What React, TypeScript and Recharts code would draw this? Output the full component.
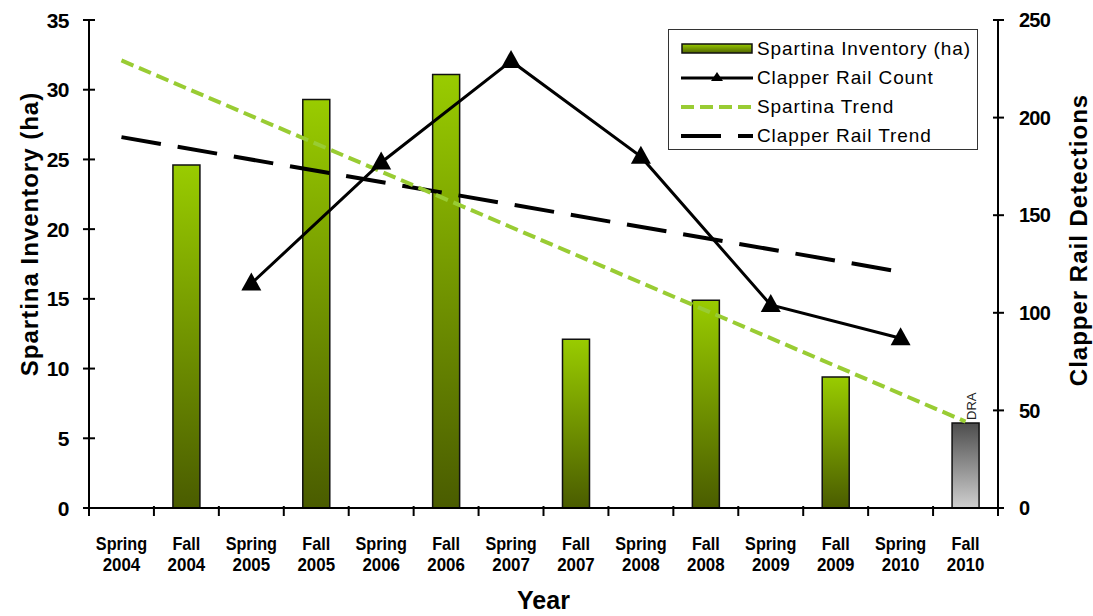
import React from 'react';
import { ComposedChart, Bar, Line, XAxis, YAxis, Cell, LabelList } from 'recharts';

const categories = [
  'Spring 2004', 'Fall 2004', 'Spring 2005', 'Fall 2005', 'Spring 2006', 'Fall 2006', 'Spring 2007',
  'Fall 2007', 'Spring 2008', 'Fall 2008', 'Spring 2009', 'Fall 2009', 'Spring 2010', 'Fall 2010',
];
const spartinaInventory = [null, 24.6, null, 29.3, null, 31.1, null, 12.1, null, 14.9, null, 9.4, null, 6.1];
const clapperRailCount = [null, null, 115, null, 177, null, 229, null, 180, null, 104, null, 87, null];
const spartinaTrend = [32.1, null, null, null, null, null, null, null, null, null, null, null, null, 6.2];
const clapperRailTrend = [190, null, null, null, null, null, null, null, null, null, null, null, 121, null];
const barNotes = ['', '', '', '', '', '', '', '', '', '', '', '', '', 'DRA'];
const leftTicks = [0, 5, 10, 15, 20, 25, 30, 35];
const rightTicks = [0, 50, 100, 150, 200, 250];

const data = categories.map((c, i) => ({
  cat: c,
  spartina: spartinaInventory[i],
  clapper: clapperRailCount[i],
  sTrend: spartinaTrend[i],
  cTrend: clapperRailTrend[i],
  note: barNotes[i],
}));

const W = 1093;
const H = 616;
const LEFT_W = 89;
const RIGHT_W = 95;
const TOP = 20;
const XAXIS_H = 108;
const FONT = '"Liberation Sans", Arial, sans-serif';

const XTick = (props: any) => {
  const { x, y, payload, index, width } = props;
  const plotW = typeof width === 'number' && width > 0 ? width : W - LEFT_W - RIGHT_W;
  const band = plotW / categories.length;
  const parts = String(payload.value).split(' ');
  return (
    <g>
      <line x1={x - band / 2} x2={x - band / 2} y1={y - 2} y2={y + 8} stroke="#000" strokeWidth={2} />
      {index === categories.length - 1 && (
        <line x1={x + band / 2} x2={x + band / 2} y1={y - 2} y2={y + 8} stroke="#000" strokeWidth={2} />
      )}
      <g transform={`translate(${x},${y + 42}) scale(0.9,1)`}>
        <text textAnchor="middle" fontFamily={FONT} fontWeight="bold" fontSize={18} fill="#000">
          {parts[0]}
        </text>
      </g>
      <g transform={`translate(${x},${y + 63}) scale(0.94,1)`}>
        <text textAnchor="middle" fontFamily={FONT} fontWeight="bold" fontSize={18} fill="#000">
          {parts[1]}
        </text>
      </g>
    </g>
  );
};

const LeftTick = (props: any) => {
  const { x, y, payload } = props;
  return (
    <g>
      <line x1={x - 6} x2={x + 6} y1={y} y2={y} stroke="#000" strokeWidth={2} />
      <text
        x={x - 20}
        y={y}
        textAnchor="end"
        dy="0.36em"
        fontFamily={FONT}
        fontWeight="bold"
        fontSize={21}
        letterSpacing={-0.5}
        fill="#000"
      >
        {payload.value}
      </text>
    </g>
  );
};

const RightTick = (props: any) => {
  const { x, y, payload } = props;
  return (
    <g>
      <line x1={x - 5} x2={x + 6} y1={y} y2={y} stroke="#000" strokeWidth={2} />
      <text
        x={x + 21}
        y={y}
        textAnchor="start"
        dy="0.36em"
        fontFamily={FONT}
        fontWeight="bold"
        fontSize={20}
        letterSpacing={-0.8}
        fill="#000"
      >
        {payload.value}
      </text>
    </g>
  );
};

const Triangle = (props: any) => {
  const { cx, cy, payload } = props;
  if (cx == null || cy == null || payload == null || payload.clapper == null) return null;
  return <path d={`M${cx},${cy - 11} L${cx + 10},${cy + 7} L${cx - 10},${cy + 7} Z`} fill="#000" />;
};

const NoteLabel = (props: any) => {
  const { x, y, width, value } = props;
  if (!value) return null;
  return (
    <text
      transform={`translate(${x + width / 2 + 10},${y - 3}) rotate(-90)`}
      fontFamily={FONT}
      fontSize={13}
      fill="#222"
    >
      {value}
    </text>
  );
};

const legendItems = [
  { key: 'bar', label: 'Spartina Inventory (ha)' },
  { key: 'count', label: 'Clapper Rail Count' },
  { key: 'sTrend', label: 'Spartina Trend' },
  { key: 'cTrend', label: 'Clapper Rail Trend' },
];

const LegendIcon = ({ kind }: { kind: string }) => (
  <svg width={72} height={16} style={{ display: 'block' }}>
    <defs>
      <linearGradient id="legGrad" x1="0" y1="0" x2="0" y2="1">
        <stop offset="0%" stopColor="#99cc00" />
        <stop offset="100%" stopColor="#4f6300" />
      </linearGradient>
    </defs>
    {kind === 'bar' && <rect x={1} y={3} width={70} height={9} fill="url(#legGrad)" stroke="#111" strokeWidth={1.5} />}
    {kind === 'count' && (
      <g>
        <line x1={0} x2={72} y1={8} y2={8} stroke="#000" strokeWidth={3} />
        <path d="M36,2 L42,11 L30,11 Z" fill="#000" />
      </g>
    )}
    {kind === 'sTrend' && (
      <line x1={0} x2={72} y1={8} y2={8} stroke="#99cc33" strokeWidth={4} strokeDasharray="13 6" />
    )}
    {kind === 'cTrend' && (
      <line x1={0} x2={72} y1={8} y2={8} stroke="#000" strokeWidth={4} strokeDasharray="40 17" />
    )}
  </svg>
);

export default function App() {
  return (
    <div style={{ position: 'absolute', left: 0, top: 0, width: W, height: H, fontFamily: FONT, background: '#fff' }}>
      <ComposedChart width={W} height={H} data={data} margin={{ top: TOP, right: 0, bottom: 0, left: 0 }}>
        <defs>
          <linearGradient id="greenGrad" x1="0" y1="0" x2="0" y2="1">
            <stop offset="0%" stopColor="#99cc00" />
            <stop offset="100%" stopColor="#4a5c00" />
          </linearGradient>
          <linearGradient id="grayGrad" x1="0" y1="0" x2="0" y2="1">
            <stop offset="0%" stopColor="#4d4d4d" />
            <stop offset="100%" stopColor="#cfcfcf" />
          </linearGradient>
        </defs>
        <XAxis
          dataKey="cat"
          height={XAXIS_H}
          interval={0}
          tickLine={false}
          tickSize={0}
          tickMargin={0}
          axisLine={{ stroke: '#000', strokeWidth: 2 }}
          tick={XTick}
          label={(p: any) => {
            const vb = p.viewBox || {};
            return (
              <text
                x={vb.x + vb.width / 2}
                y={vb.y + 101}
                textAnchor="middle"
                fontFamily={FONT}
                fontWeight="bold"
                fontSize={25}
                fill="#000"
              >
                Year
              </text>
            );
          }}
        />
        <YAxis
          yAxisId="left"
          orientation="left"
          width={LEFT_W}
          domain={[0, 35]}
          ticks={leftTicks}
          interval={0}
          tickLine={false}
          tickSize={0}
          tickMargin={0}
          axisLine={{ stroke: '#000', strokeWidth: 2 }}
          tick={LeftTick}
          label={(p: any) => {
            const vb = p.viewBox || {};
            return (
              <text
                transform={`translate(${vb.x + 38},${vb.y + vb.height / 2 - 30}) rotate(-90)`}
                textAnchor="middle"
                fontFamily={FONT}
                fontWeight="bold"
                fontSize={24}
                letterSpacing={1}
                fill="#000"
              >
                Spartina Inventory (ha)
              </text>
            );
          }}
        />
        <YAxis
          yAxisId="right"
          orientation="right"
          width={RIGHT_W}
          domain={[0, 250]}
          ticks={rightTicks}
          interval={0}
          tickLine={false}
          tickSize={0}
          tickMargin={0}
          axisLine={{ stroke: '#000', strokeWidth: 2 }}
          tick={RightTick}
          label={(p: any) => {
            const vb = p.viewBox || {};
            return (
              <text
                transform={`translate(${vb.x + 89},${vb.y + vb.height / 2 - 24}) rotate(-90)`}
                textAnchor="middle"
                fontFamily={FONT}
                fontWeight="bold"
                fontSize={24}
                letterSpacing={1}
                fill="#000"
              >
                Clapper Rail Detections
              </text>
            );
          }}
        />
        <Bar
          yAxisId="left"
          dataKey="spartina"
          barSize={27}
          fill="url(#greenGrad)"
          stroke="#111"
          strokeWidth={1.5}
          isAnimationActive={false}
        >
          {data.map((d, i) => (
            <Cell key={i} fill={d.note ? 'url(#grayGrad)' : 'url(#greenGrad)'} />
          ))}
          <LabelList dataKey="note" content={NoteLabel} />
        </Bar>
        <Line
          yAxisId="right"
          dataKey="cTrend"
          stroke="#000"
          strokeWidth={4}
          strokeDasharray="40 17"
          dot={false}
          connectNulls
          isAnimationActive={false}
        />
        <Line
          yAxisId="left"
          dataKey="sTrend"
          stroke="#99cc33"
          strokeWidth={4}
          strokeDasharray="13 6"
          dot={false}
          connectNulls
          isAnimationActive={false}
        />
        <Line
          yAxisId="right"
          dataKey="clapper"
          stroke="#000"
          strokeWidth={3}
          dot={Triangle}
          activeDot={false}
          connectNulls
          isAnimationActive={false}
        />
      </ComposedChart>
      <div
        style={{
          position: 'absolute',
          left: 668,
          top: 29,
          width: 310,
          height: 121,
          border: '1px solid #333',
          background: '#fff',
          boxSizing: 'border-box',
          paddingTop: 4,
        }}
      >
        {legendItems.map((it) => (
          <div key={it.key} style={{ display: 'flex', alignItems: 'center', height: 29, paddingLeft: 12 }}>
            <LegendIcon kind={it.key} />
            <span
              style={{
                marginLeft: 4,
                fontSize: 19,
                letterSpacing: 0.9,
                color: '#000',
                whiteSpace: 'nowrap',
                fontFamily: FONT,
              }}
            >
              {it.label}
            </span>
          </div>
        ))}
      </div>
    </div>
  );
}
